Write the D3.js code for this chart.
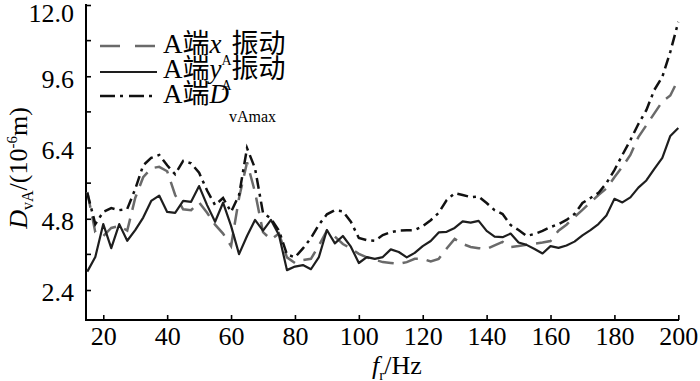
<!DOCTYPE html>
<html><head><meta charset="utf-8">
<script src="https://cdn.jsdelivr.net/npm/d3@7"></script>
<style>
html,body{margin:0;padding:0;background:#fff;}
svg{display:block;}
text{font-family:"Liberation Serif","Times New Roman","Noto Sans CJK SC",serif;fill:#000;}
</style></head>
<body>
<svg id="chart" width="700" height="381"></svg>
<script>
const freq = [15,17.5,20,22.5,25,27.5,30,32.5,35,37.5,40,42.5,45,47.5,50,52.5,55,57.5,60,62.5,65,67.5,70,72.5,75,77.5,80,82.5,85,87.5,90,92.5,95,97.5,100,102.5,105,107.5,110,112.5,115,117.5,120,122.5,125,127.5,130,132.5,135,137.5,140,142.5,145,147.5,150,152.5,155,157.5,160,162.5,165,167.5,170,172.5,175,177.5,180,182.5,185,187.5,190,192.5,195,197.5,200];

const xA = [5.70,4.35,4.22,4.49,4.56,4.40,5.50,6.20,6.50,6.55,6.40,5.60,5.12,5.09,5.35,5.00,4.60,4.30,3.88,5.50,6.70,5.70,4.35,4.10,4.30,3.50,3.31,3.41,3.45,3.90,4.40,4.20,3.95,3.80,3.62,3.50,3.42,3.34,3.31,3.28,3.34,3.45,3.45,3.36,3.45,3.80,4.12,3.95,3.85,3.81,3.78,3.90,4.02,3.85,3.88,3.92,3.96,4.00,4.05,4.40,4.60,4.86,5.10,5.35,5.60,5.82,6.20,6.55,6.95,7.55,7.95,8.35,8.75,8.95,9.50];

const yA = [3.02,3.51,4.62,3.81,4.62,4.06,4.42,4.84,5.40,5.58,5.03,5.00,5.40,5.37,5.90,5.26,4.70,5.34,4.56,3.61,4.22,4.76,4.40,4.76,4.25,3.07,3.19,3.24,3.10,3.51,4.42,3.97,4.22,3.86,3.31,3.51,3.45,3.51,3.77,3.68,3.50,3.65,3.88,4.05,4.34,4.36,4.49,4.71,4.67,4.73,4.39,4.20,4.18,4.30,4.00,3.92,3.78,3.63,3.88,3.82,3.90,4.03,4.24,4.42,4.62,4.91,5.47,5.35,5.52,5.85,6.09,6.48,6.85,7.59,7.86];

const dMax = [5.67,4.62,5.03,5.16,5.09,5.13,5.80,6.60,6.85,6.95,6.60,6.30,6.75,6.67,6.35,5.75,5.26,5.50,5.03,5.60,7.18,6.50,5.00,4.80,4.40,3.60,3.50,3.80,4.15,4.60,4.95,5.09,5.05,4.70,4.15,4.08,4.06,4.25,4.35,4.40,4.41,4.42,4.55,4.75,5.00,5.43,5.66,5.60,5.53,5.55,5.33,5.09,4.96,4.59,4.42,4.22,4.29,4.39,4.52,4.62,4.76,4.96,5.33,5.50,5.67,6.00,6.44,6.95,7.45,7.99,8.46,9.14,9.58,10.42,11.43];

const xTicks = [20,40,60,80,100,120,140,160,180,200];
const yTickValues = [2.4,4.8,7.2,9.6,12.0];
const yTickLabels = ["2.4","4.8","6.4","9.6","12.0"];
const yMinorTicks = [3.6,6.0,8.4,10.8];

const svg = d3.select("#chart");
const x = d3.scaleLinear().domain([15,200]).range([87.3,678.3]);
const y = d3.scaleLinear().domain([1.39,12]).range([320,5]);

// axes
const xAxis = d3.axisBottom(x).tickValues(xTicks).tickSizeInner(-5).tickSizeOuter(0).tickPadding(12);
const gx = svg.append("g").attr("transform","translate(0,320)").call(xAxis);
gx.select(".domain").attr("d","M86,0H679").attr("stroke","#000").attr("stroke-width",2);
gx.selectAll(".tick line").attr("stroke","#000").attr("stroke-width",1.6);
gx.selectAll(".tick text").attr("font-size",26).attr("dy","0.5em");

const yAxis = d3.axisLeft(y).tickValues(yTickValues).tickFormat((d,i)=>yTickLabels[i]).tickSizeInner(-5).tickSizeOuter(0).tickPadding(12);
const gy = svg.append("g").attr("transform","translate(86,0)").call(yAxis);
gy.select(".domain").attr("d","M0,4V321").attr("stroke","#000").attr("stroke-width",2);
gy.selectAll(".tick line").attr("stroke","#000").attr("stroke-width",1.6);
gy.selectAll(".tick text").attr("font-size",26).attr("dy",(d,i)=> i===4 ? "0.62em" : "0.42em");
gy.selectAll(".minor").data(yMinorTicks).enter().append("line")
  .attr("x1",0).attr("x2",5).attr("y1",d=>y(d)).attr("y2",d=>y(d))
  .attr("stroke","#000").attr("stroke-width",1.6);

// lines
const line = d3.line().x((d,i)=>x(freq[i])).y(d=>y(d));
svg.append("path").datum(xA).attr("d",line).attr("fill","none")
  .attr("stroke","#6a6a6a").attr("stroke-width",2.5).attr("stroke-dasharray","16,9");
svg.append("path").datum(yA).attr("d",line).attr("fill","none")
  .attr("stroke","#1e1e1e").attr("stroke-width",2.2).attr("stroke-linejoin","round");
svg.append("path").datum(dMax).attr("d",line).attr("fill","none")
  .attr("stroke","#111").attr("stroke-width",2.5).attr("stroke-dasharray","11,5,3,5");

// legend
const leg = svg.append("g");
const rows = [
  {y:46, stroke:"#6a6a6a", w:2.5, dash:"20,15"},
  {y:72, stroke:"#1e1e1e", w:2.2, dash:null},
  {y:96, stroke:"#111", w:2.5, dash:"15,5,3,6"}
];
rows.forEach(r=>{
  const l = leg.append("line").attr("x1",100).attr("x2",157).attr("y1",r.y).attr("y2",r.y)
    .attr("stroke",r.stroke).attr("stroke-width",r.w);
  if(r.dash) l.attr("stroke-dasharray",r.dash);
});
function legText(base, sym, sub, tail, subSize, subDy){
  const t = leg.append("text").attr("x",163).attr("y",base).attr("font-size",27);
  t.append("tspan").text("A端");
  t.append("tspan").attr("font-style","italic").text(sym);
  t.append("tspan").attr("font-size",subSize).attr("dy",subDy).text(sub);
  if(tail) t.append("tspan").attr("dy",-subDy).text(tail);
}
legText(53,"x","A","振动",14,12);
legText(78,"y","A","振动",14,12);
legText(103,"D","vAmax",null,16,19);

// y title
const yt = svg.append("text").attr("transform","translate(27,168) rotate(-90)")
  .attr("text-anchor","middle").attr("font-size",26);
yt.append("tspan").attr("font-style","italic").text("D");
yt.append("tspan").attr("font-size",16).attr("dy",6).text("vA");
yt.append("tspan").attr("dy",-6).text("/(10");
yt.append("tspan").attr("font-size",15).attr("dy",-10).text("-6");
yt.append("tspan").attr("dy",10).text("m)");

// x title
const xt = svg.append("text").attr("x",397).attr("y",374).attr("text-anchor","middle").attr("font-size",26);
xt.append("tspan").attr("font-style","italic").text("f");
xt.append("tspan").attr("font-size",15).attr("dy",6).text("r");
xt.append("tspan").attr("dy",-6).text("/Hz");
</script>
</body></html>
